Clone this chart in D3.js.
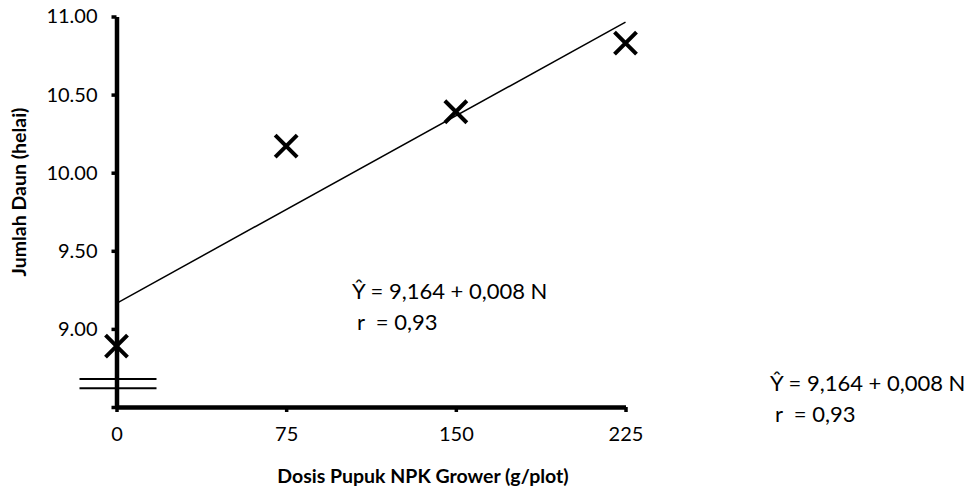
<!DOCTYPE html>
<html>
<head>
<meta charset="utf-8">
<script src="https://cdn.jsdelivr.net/npm/d3@7"></script>
<style>
  body { margin: 0; background: #fff; }
  text { font-family: Lato, "Open Sans", sans-serif; fill: #000; }
  .axis path, .axis line { stroke: #000; }
  .lbl { font-weight: bold; font-size: 19.5px; }
  .eq { font-size: 22px; white-space: pre; }
</style>
</head>
<body>
<svg id="chart" width="980" height="492"></svg>
<script>
// data
var doses = [0, 75, 150, 225];
var leaves = [8.89, 10.17, 10.39, 10.83];
var xTicks = [0, 75, 150, 225];
var yTicks = [8.5, 9.0, 9.5, 10.0, 10.5, 11.0];
var intercept = 9.164, slope = 0.008;
var eqText = "Ŷ = 9,164 + 0,008 N";
var rText = "r  = 0,93";

var svg = d3.select("#chart"),
    margin = { top: 16.5, left: 116.5 },
    width = 509,
    height = 390.5;

var x = d3.scaleLinear().domain([0, 225]).range([0, width]),
    y = d3.scaleLinear().domain([8.5, 11]).range([height, 0]);

var g = svg.append("g")
    .attr("transform", "translate(" + margin.left + "," + margin.top + ")");

// break marks on the y axis
[8.68, 8.62].forEach(function (v) {
    g.append("line")
        .attr("x1", -37).attr("x2", 40)
        .attr("y1", y(v)).attr("y2", y(v))
        .attr("stroke", "#000").attr("stroke-width", 2);
});

var xAxis = g.append("g")
    .attr("class", "axis")
    .attr("transform", "translate(0," + height + ")")
    .call(d3.axisBottom(x).tickValues(xTicks).tickSize(5).tickSizeOuter(0).tickPadding(15)
        .tickFormat(d3.format("d")));
xAxis.select(".domain").attr("stroke-width", 4.5);
xAxis.selectAll(".tick line").attr("stroke-width", 3.5);
xAxis.selectAll("text").attr("font-family", "Lato, 'Open Sans', sans-serif").attr("font-size", 20);

var yAxis = g.append("g")
    .attr("class", "axis")
    .call(d3.axisLeft(y).tickValues(yTicks).tickSize(5).tickSizeOuter(0).tickPadding(14)
        .tickFormat(function (d) { return d === 8.5 ? "" : d.toFixed(2); }));
yAxis.select(".domain").attr("stroke-width", 4.5);
yAxis.selectAll(".tick line").attr("stroke-width", 3.5);
yAxis.selectAll("text").attr("font-family", "Lato, 'Open Sans', sans-serif").attr("font-size", 20);

// regression line
g.append("line")
    .attr("x1", x(0)).attr("y1", y(intercept))
    .attr("x2", x(225)).attr("y2", y(intercept + slope * 225))
    .attr("stroke", "#000").attr("stroke-width", 1.5);

// markers
var s = 11;
g.selectAll(".pt")
    .data(doses)
    .enter().append("path")
    .attr("class", "pt")
    .attr("d", function (d, i) {
        var cx = x(d), cy = y(leaves[i]);
        return "M" + (cx - s) + "," + (cy - s) + "L" + (cx + s) + "," + (cy + s) +
            "M" + (cx - s) + "," + (cy + s) + "L" + (cx + s) + "," + (cy - s);
    })
    .attr("stroke", "#000").attr("stroke-width", 4).attr("fill", "none");

// axis titles
svg.append("text").attr("class", "lbl")
    .attr("transform", "translate(26,192) rotate(-90)")
    .attr("text-anchor", "middle")
    .text("Jumlah Daun (helai)");

svg.append("text").attr("class", "lbl")
    .attr("x", 423).attr("y", 483)
    .attr("text-anchor", "middle")
    .text("Dosis Pupuk NPK Grower (g/plot)");

// equation labels
[[352, 299], [770, 391]].forEach(function (p) {
    svg.append("text").attr("class", "eq").attr("x", p[0]).attr("y", p[1]).text(eqText);
    svg.append("text").attr("class", "eq").attr("x", p[0] + 5).attr("y", p[1] + 31).text(rText);
});
</script>
</body>
</html>
